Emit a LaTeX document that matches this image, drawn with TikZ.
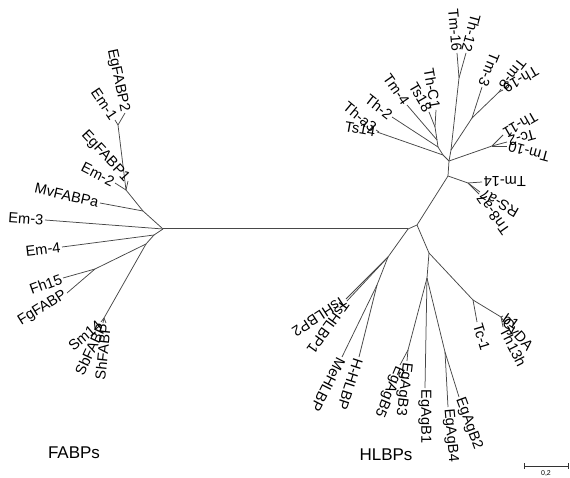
\documentclass[tikz,border=0pt]{standalone}
\usepackage{fontspec}
\setmainfont{Liberation Sans}
\begin{document}
\begin{tikzpicture}[x=1pt,y=-1pt,
  br/.style={draw=black!72, line width=0.75pt},
  lab/.style={font=\fontsize{14.6}{14.6}\selectfont, inner sep=1.5pt},
  le/.style={lab, anchor=east},
  lw/.style={lab, anchor=west},
  grp/.style={font=\fontsize{17}{17}\selectfont, inner sep=0pt}]
\useasboundingbox (0,0) rectangle (570,478);
% ---------- FABP side ----------
\coordinate (fr) at (163,229);
\coordinate (hr) at (408,229);
\coordinate (u1) at (143,211);
\coordinate (u2) at (126,190);
\coordinate (u3) at (118,125);
\coordinate (tEgF2) at (125,113);
\coordinate (tEm1) at (115,120);
\coordinate (tEgF1) at (128,181);
\coordinate (tEm2) at (115,183);
\coordinate (tMv) at (100,203);
\coordinate (tEm3) at (45,220);
\coordinate (f1) at (154,235);
\coordinate (tEm4) at (62,247);
\coordinate (f2) at (146,244);
\coordinate (f3) at (95,269);
\coordinate (tFh) at (63,278);
\coordinate (tFg) at (67,293);
\coordinate (f4) at (104,318);
\coordinate (tSm) at (101,322);
\coordinate (tSb) at (103,323);
\coordinate (tSh) at (106,323);
% ---------- HLBP side ----------
\coordinate (hb) at (417,225);
\coordinate (t1) at (448,176);
\coordinate (s1) at (468,183);
\coordinate (tTm14) at (482,182);
\coordinate (tRS) at (480,192);
\coordinate (tTn8) at (479,194);
\coordinate (t2) at (449,161);
\coordinate (tm) at (492,146);
\coordinate (tTh11) at (503,135);
\coordinate (tTc2) at (507,142);
\coordinate (tTm10) at (507,146);
\coordinate (m0) at (451,150);
\coordinate (st1) at (459,78);
\coordinate (tTm16) at (457,53);
\coordinate (tTh12) at (466,53);
\coordinate (st2) at (472,118);
\coordinate (tTm3) at (482,87);
\coordinate (st3) at (499,92);
\coordinate (tTm8) at (501,89);
\coordinate (tTh19) at (503,90);
\coordinate (l1) at (443,155);
\coordinate (tTs14) at (377,132);
\coordinate (tTha3) at (376,130);
\coordinate (l3) at (438,147);
\coordinate (tTh2) at (392,117);
\coordinate (l4) at (437,140);
\coordinate (tTm4) at (407,105);
\coordinate (l2) at (435,127);
\coordinate (tTs18) at (429,112);
\coordinate (tThC1) at (436,110);
\coordinate (c) at (388,257);
\coordinate (tTs2) at (346,299);
\coordinate (tTs1) at (347,301);
\coordinate (e) at (377,285);
\coordinate (tMe) at (342,357);
\coordinate (tHH) at (359,357);
\coordinate (d) at (429,253);
\coordinate (g) at (427,278);
\coordinate (k1) at (408,350);
\coordinate (tB5) at (400,365);
\coordinate (tB3) at (407,361);
\coordinate (tB1) at (425,388);
\coordinate (k2) at (445,352);
\coordinate (tB4) at (448,407);
\coordinate (tB2) at (459,397);
\coordinate (h) at (473,300);
\coordinate (tTc1) at (477,322);
\coordinate (i) at (501,317);
\coordinate (tb1) at (503,316);
\coordinate (tCy) at (503,320);
\coordinate (tTh13) at (503,327);
% ---------- branches ----------
\draw[br, line width=1pt] (fr) -- (hr);
\draw[br] (fr) -- (u1) -- (u2) -- (u3) -- (tEm1);
\draw[br] (u3) -- (tEgF2);
\draw[br] (u2) -- (tEgF1);
\draw[br] (u2) -- (tEm2);
\draw[br] (u1) -- (tMv);
\draw[br] (fr) -- (tEm3);
\draw[br] (fr) -- (f1) -- (tEm4);
\draw[br] (f1) -- (f2) -- (f3) -- (tFh);
\draw[br] (f3) -- (tFg);
\draw[br] (f2) -- (f4) -- (tSm);
\draw[br] (f4) -- (tSb);
\draw[br] (f4) -- (tSh);
\draw[br] (hr) -- (hb) -- (t1) -- (s1) -- (tTm14);
\draw[br] (s1) -- (tRS);
\draw[br] (s1) -- (tTn8);
\draw[br] (t1) -- (t2) -- (tm) -- (tTh11);
\draw[br] (tm) -- (tTc2);
\draw[br] (tm) -- (tTm10);
\draw[br] (t2) -- (m0) -- (st1) -- (tTm16);
\draw[br] (st1) -- (tTh12);
\draw[br] (m0) -- (st2) -- (tTm3);
\draw[br] (st2) -- (st3) -- (tTm8);
\draw[br] (st3) -- (tTh19);
\draw[br] (t2) -- (l1) -- (tTs14);
\draw[br] (l1) -- (l3) -- (tTh2);
\draw[br] (l3) -- (l4) -- (tTm4);
\draw[br] (l4) -- (l2) -- (tTs18);
\draw[br] (l2) -- (tThC1);
\draw[br] (tTs14) ++(2,0) -- (tTha3);
\draw[br] (hr) -- (c) -- (tTs2);
\draw[br] (c) -- (tTs1);
\draw[br] (c) -- (e) -- (tMe);
\draw[br] (e) -- (tHH);
\draw[br] (hb) -- (d) -- (g) -- (k1) -- (tB5);
\draw[br] (k1) -- (tB3);
\draw[br] (g) -- (tB1);
\draw[br] (g) -- (k2) -- (tB4);
\draw[br] (k2) -- (tB2);
\draw[br] (d) -- (h) -- (tTc1);
\draw[br] (h) -- (i) -- (tCy);
\draw[br] (i) -- (tb1);
\draw[br] (i) -- (tTh13);
% ---------- labels ----------
\node[le, rotate=-78] (lEgF2) at (tEgF2) {EgFABP2};
\node[le, rotate=-56] (lEm1) at (tEm1) {Em-1};
\node[le, rotate=-47] (lEgF1) at (tEgF1) {EgFABP1};
\node[le, rotate=-27] (lEm2) at (tEm2) {Em-2};
\node[le, rotate=-13] (lMv) at (tMv) {MvFABPa};
\node[le, rotate=-4] (lEm3) at (tEm3) {Em-3};
\node[le, rotate=7] (lEm4) at (tEm4) {Em-4};
\node[le, rotate=20] (lFh) at (tFh) {Fh15};
\node[le, rotate=32] (lFg) at (tFg) {FgFABP};
\node[le, rotate=40] (lSm) at (tSm) {Sm14};
\node[le, rotate=65] (lSb) at (tSb) {SbFABP};
\node[le, rotate=84] (lSh) at (tSh) {ShFABP};
\node[le, rotate=-10] (lTs14) at (tTs14) {Ts14};
\node[le, rotate=-40] (lTha3) at (tTha3) {Th-a3};
\node[le, rotate=-38] (lTh2) at (tTh2) {Th-2};
\node[le, rotate=-55] (lTm4) at (tTm4) {Tm-4};
\node[le, rotate=-60] (lTs18) at (tTs18) {Ts18};
\node[le, rotate=-80] (lThC1) at (tThC1) {Th-C1};
\node[le, rotate=-85] (lTm16) at (tTm16) {Tm-16};
\node[le, rotate=-105] (lTh12) at (tTh12) {Th-12};
\node[le, rotate=-112] (lTm3) at (tTm3) {Tm-3};
\node[le, rotate=-128] (lTm8) at (tTm8) {Tm-8};
\node[le, rotate=-150] (lTh19) at (tTh19) {Th-19};
\node[le, rotate=-150] (lTh11) at (tTh11) {Th-11};
\node[le, rotate=-165] (lTc2) at (tTc2) {Tc-2};
\node[le, rotate=165] (lTm10) at (tTm10) {Tm-10};
\node[le, rotate=180] (lTm14) at (tTm14) {Tm-14};
\node[le, rotate=150] (lRS) at (tRS) {RS-a7};
\node[le, rotate=125] (lTn8) at (tTn8) {Tn8-a7};
\node[lw, rotate=-147] (lTs2) at (tTs2) {TsHLBP2};
\node[lw, rotate=-126] (lTs1) at (tTs1) {TsHLBP1};
\node[lw, rotate=-117] (lMe) at (tMe) {MeHLBP};
\node[lw, rotate=-108] (lHH) at (tHH) {H-HLBP};
\node[lw, rotate=-113] (lB5) at (tB5) {EgAgB5};
\node[lw, rotate=-97] (lB3) at (tB3) {EgAgB3};
\node[lw, rotate=-90] (lB1) at (tB1) {EgAgB1};
\node[lw, rotate=-85] (lB4) at (tB4) {EgAgB4};
\node[lw, rotate=-70] (lB2) at (tB2) {EgAgB2};
\node[lw, rotate=-73] (lTc1) at (tTc1) {Tc-1};
\node[lw, rotate=-63] (lTh13) at (tTh13) {Th13h};
\node[lw, rotate=-48] (lCy) at (tCy) {CyDA};
\node[lw, rotate=-35] (lb1) at (tb1) {b1};
% ---------- groups & scale ----------
\node[grp] (gF) at (74,453) {FABPs};
\node[grp] (gH) at (386,455) {HLBPs};
\coordinate (sb1) at (524,466);
\coordinate (sb2) at (568,466);
\draw[black!80, line width=0.9pt] (sb1) -- (sb2);
\draw[black!80, line width=0.9pt] (sb1) ++(0,-3) -- ++(0,6);
\draw[black!80, line width=0.9pt] (sb2) ++(0,-3) -- ++(0,6);
\node[font=\fontsize{7}{7}\selectfont, inner sep=0pt] (sbl) at (546,474) {0,2};
\end{tikzpicture}
\end{document}
